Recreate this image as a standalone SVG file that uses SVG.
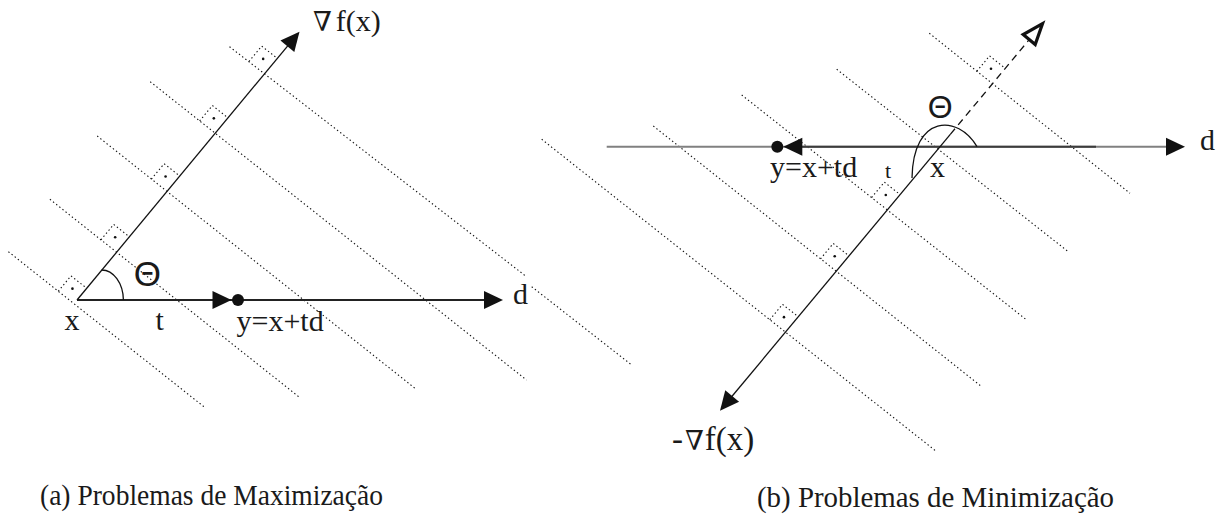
<svg xmlns="http://www.w3.org/2000/svg" xmlns:xlink="http://www.w3.org/1999/xlink" width="1226" height="521" viewBox="0 0 1226 521">
<style>
.lv{fill:none;stroke:#111;stroke-width:1.1;stroke-dasharray:1.4 2.6}
.ln{fill:none;stroke:#111;stroke-width:1.3}
.hl{fill:none;stroke:#222;stroke-width:2}
.ah{fill:#111;stroke:none}
text{font-family:"Liberation Serif","DejaVu Serif",serif;fill:#1a1a1a}
.th{font-family:"Liberation Sans","DejaVu Sans",sans-serif}
.nb{font-family:"DejaVu Serif",serif}
</style>
<defs>
<g id="rm"><path class="lv" d="M-15.7 -12.4 L-2.93 -27.79 L12.77 -15.39"/><circle cx="-1.5" cy="-15" r="1.3" fill="#111"/></g>
<path id="ah" class="ah" d="M0 0 L-19 -9 L-19 9 Z"/>
</defs>
<rect width="1226" height="521" fill="#fff"/>

<g id="panel-a">
<g id="a-levels">
<line class="lv" x1="8.4" y1="251.7" x2="205.9" y2="408.3"/>
<line class="lv" x1="49.9" y1="199.3" x2="298.7" y2="396.7"/>
<line class="lv" x1="97.2" y1="136" x2="415" y2="388.3"/>
<line class="lv" x1="150.2" y1="81.7" x2="526.5" y2="380"/>
<line class="lv" x1="229.5" y1="46.7" x2="526.5" y2="276.7"/>
<use xlink:href="#rm" href="#rm" transform="translate(73.95,303.67)"/>
<use xlink:href="#rm" href="#rm" transform="translate(116.65,252.23)"/>
<use xlink:href="#rm" href="#rm" transform="translate(167.07,191.49)"/>
<use xlink:href="#rm" href="#rm" transform="translate(215.33,133.33)"/>
<use xlink:href="#rm" href="#rm" transform="translate(264.66,73.9)"/>
</g>
<g id="a-connectors">
<line class="hl" x1="77" y1="300" x2="488" y2="300"/>
<line class="ln" x1="77" y1="300" x2="289" y2="44.3"/>
<path class="ln" d="M101.7 270 A21.7 30.7 0 0 1 123.4 300"/>
<use xlink:href="#ah" href="#ah" transform="translate(299.5,31.7) rotate(-50.3)"/>
<use xlink:href="#ah" href="#ah" transform="translate(503,300)"/>
<use xlink:href="#ah" href="#ah" transform="translate(231.5,300)"/>
<circle cx="238" cy="300" r="6" fill="#111"/>
</g>
<g id="a-grad"><text x="313" y="31" font-size="30"><tspan class="nb" font-size="27">∇</tspan><tspan dx="4">f(x)</tspan></text></g>
<g id="a-x"><text x="64.5" y="329.5" font-size="30">x</text></g>
<g id="a-t"><text x="155.5" y="330" font-size="30">t</text></g>
<g id="a-y"><text x="236.5" y="330.5" font-size="30">y=x+td</text></g>
<g id="a-d"><text x="513" y="304" font-size="30">d</text></g>
<g id="a-theta"><text class="th" x="147.3" y="286" font-size="35" text-anchor="middle">Θ</text></g>
<g id="a-caption"><text x="40" y="505" font-size="30" textLength="343" lengthAdjust="spacingAndGlyphs">(a) Problemas de Maximização</text></g>
</g>

<g id="panel-b">
<g id="b-levels">
<line class="lv" x1="531.7" y1="286.7" x2="631.7" y2="365"/>
<line class="lv" x1="541.7" y1="139.3" x2="936.7" y2="451.7"/>
<line class="lv" x1="653.3" y1="126" x2="981.7" y2="386.7"/>
<line class="lv" x1="741.7" y1="95" x2="1026.7" y2="320"/>
<line class="lv" x1="836.7" y1="69.3" x2="1068.3" y2="251.7"/>
<line class="lv" x1="929.3" y1="33.3" x2="1130" y2="193.3"/>
<use xlink:href="#rm" href="#rm" transform="translate(785.47,332.14)"/>
<use xlink:href="#rm" href="#rm" transform="translate(836.2,271.26)"/>
<use xlink:href="#rm" href="#rm" transform="translate(887.3,209.94)"/>
<use xlink:href="#rm" href="#rm" transform="translate(992.5,83.7)"/>
</g>
<g id="b-connectors">
<line x1="606.7" y1="146.7" x2="1170" y2="146.7" stroke="#808080" stroke-width="2"/>
<line x1="800" y1="146.7" x2="1096" y2="146.7" stroke="#3c3c3c" stroke-width="2"/>
<use xlink:href="#ah" href="#ah" transform="translate(1185,146.7)"/>
<use xlink:href="#ah" href="#ah" transform="translate(783.3,146.7) rotate(180)"/>
<circle cx="777.3" cy="146.7" r="6" fill="#111"/>
<line class="ln" x1="950.5" y1="134.1" x2="731" y2="397.5"/>
<line class="ln" x1="950.5" y1="134.1" x2="1029.2" y2="39.66" stroke-dasharray="7 5"/>
<polygon points="1042.5,23.7 1023.2,34.6 1035.2,44.6" fill="#fff" stroke="#111" stroke-width="3.2" stroke-linejoin="miter"/>
<use xlink:href="#ah" href="#ah" transform="translate(720,410.7) rotate(129.8)"/>
<path class="ln" d="M912 178 C913 114 958 114 977 146.7"/>
</g>
<g id="b-d"><text x="1200" y="150" font-size="30">d</text></g>
<g id="b-y"><text x="770" y="176.7" font-size="30">y=x+td</text></g>
<g id="b-t"><text x="885" y="178.3" font-size="22">t</text></g>
<g id="b-x"><text x="930" y="176.7" font-size="30">x</text></g>
<g id="b-theta"><text class="th" x="940.3" y="118" font-size="32" text-anchor="middle">Θ</text></g>
<g id="b-grad"><text x="672" y="450" font-size="33">-<tspan class="nb" dx="2" font-size="27">∇</tspan><tspan dx="1">f(x)</tspan></text></g>
<g id="b-caption"><text x="757" y="507" font-size="30" textLength="357" lengthAdjust="spacingAndGlyphs">(b) Problemas de Minimização</text></g>
</g>
</svg>
